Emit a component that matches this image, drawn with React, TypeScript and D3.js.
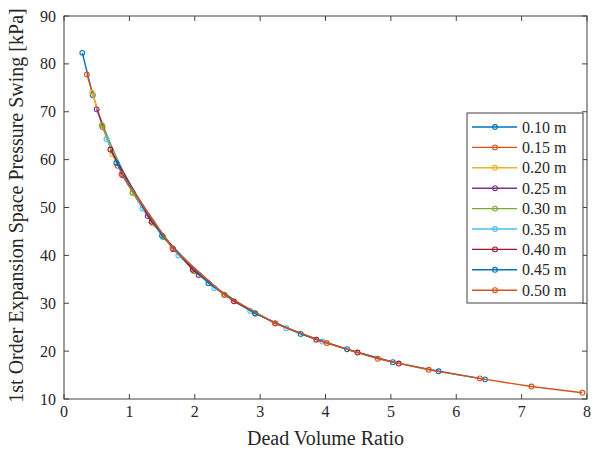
import React from 'react'
import * as d3 from 'd3'

// dead volume ratio (x) and 1st order pressure swing in kPa (y), one pair of arrays per length
const lengths = ['0.10 m', '0.15 m', '0.20 m', '0.25 m', '0.30 m', '0.35 m', '0.40 m', '0.45 m', '0.50 m']

const x010 = [0.28, 0.44]
const y010 = [82.3, 73.5]
const x015 = [0.35, 0.59, 0.82]
const y015 = [77.8, 66.8, 58.7]
const x020 = [0.43, 0.74, 1.05, 1.36]
const y020 = [74.0, 61.1, 53.1, 46.6]
const x025 = [0.50, 0.89, 1.28, 1.67, 2.06]
const y025 = [70.5, 56.8, 48.2, 41.3, 35.9]
const x030 = [0.58, 1.05, 1.52, 1.99, 2.46, 2.93]
const y030 = [67.2, 53.1, 43.8, 36.7, 31.7, 27.8]
const x035 = [0.65, 1.20, 1.75, 2.30, 2.85, 3.40, 3.95]
const y035 = [64.3, 49.8, 40.0, 33.2, 28.4, 24.8, 22.0]
const x040 = [0.71, 1.34, 1.97, 2.60, 3.23, 3.86, 4.49, 5.12]
const y040 = [62.1, 47.0, 37.0, 30.4, 25.8, 22.4, 19.7, 17.4]
const x045 = [0.80, 1.50, 2.21, 2.92, 3.62, 4.33, 5.03, 5.73, 6.44]
const y045 = [59.3, 44.1, 34.2, 27.9, 23.6, 20.4, 17.7, 15.8, 14.1]
const x050 = [0.88, 1.66, 2.45, 3.23, 4.02, 4.80, 5.58, 6.36, 7.15, 7.93]
const y050 = [57.0, 41.5, 31.8, 25.8, 21.7, 18.4, 16.1, 14.3, 12.6, 11.3]

const xSeries = [x010, x015, x020, x025, x030, x035, x040, x045, x050]
const ySeries = [y010, y015, y020, y025, y030, y035, y040, y045, y050]

const xTicks = [0, 1, 2, 3, 4, 5, 6, 7, 8]
const yTicks = [10, 20, 30, 40, 50, 60, 70, 80, 90]

// matlab default colour order, wraps after 7
const colors = ['#0072BD', '#D95319', '#EDB120', '#7E2F8E', '#77AC30', '#4DBEEE', '#A2142F']

const W = 600
const H = 453
const left = 64
const right = 587
const top = 16
const bottom = 399
const axisColor = '#404040'
const serif = '"Liberation Serif", "Times New Roman", serif'

export default function App() {
  const x = d3.scaleLinear().domain([0, 8]).range([left, right])
  const y = d3.scaleLinear().domain([10, 90]).range([bottom, top])

  const line = d3.line<[number, number]>()
    .x(d => x(d[0]))
    .y(d => y(d[1]))

  const tickLen = 5

  /* legend setup */
  const legX = 467
  const legY = 113
  const legW = 116
  const legRow = 20.4

  return (
    <svg width={W} height={H} style={{ position: 'absolute', left: 0, top: 0, background: '#fff' }}>
      <rect x={0} y={0} width={W} height={H} fill="#fff" />

      {/* series */}
      {xSeries.map((xs, i) => {
        const pts: [number, number][] = xs.map((v, j) => [v, ySeries[i][j]])
        const c = colors[i % colors.length]
        return (
          <g key={i}>
            <path d={line(pts) || ''} fill="none" stroke={c} strokeWidth={1.4} />
            {pts.map((p, j) => (
              <circle key={j} cx={x(p[0])} cy={y(p[1])} r={2.4} fill="none" stroke={c} strokeWidth={1.1} />
            ))}
          </g>
        )
      })}

      {/* axes box */}
      <rect x={left} y={top} width={right - left} height={bottom - top} fill="none" stroke={axisColor} strokeWidth={1} />

      {xTicks.map(t => (
        <g key={'x' + t}>
          <line x1={x(t)} x2={x(t)} y1={bottom} y2={bottom - tickLen} stroke={axisColor} />
          <line x1={x(t)} x2={x(t)} y1={top} y2={top + tickLen} stroke={axisColor} />
          <text x={x(t)} y={417} textAnchor="middle" fontFamily={serif} fontSize={16} fill="#262626">{t}</text>
        </g>
      ))}

      {yTicks.map(t => (
        <g key={'y' + t}>
          <line x1={left} x2={left + tickLen} y1={y(t)} y2={y(t)} stroke={axisColor} />
          <line x1={right} x2={right - tickLen} y1={y(t)} y2={y(t)} stroke={axisColor} />
          <text x={56} y={y(t) + 5.5} textAnchor="end" fontFamily={serif} fontSize={16} fill="#262626">{t}</text>
        </g>
      ))}

      <text x={(left + right) / 2} y={445} textAnchor="middle" fontFamily={serif} fontSize={20} fill="#262626">
        Dead Volume Ratio
      </text>
      <text
        transform={`translate(23,${(top + bottom) / 2 - 2}) rotate(-90)`}
        textAnchor="middle"
        fontFamily={serif}
        fontSize={20}
        fill="#262626"
      >
        1st Order Expansion Space Pressure Swing [kPa]
      </text>

      {/* legend */}
      <rect x={legX} y={legY} width={legW} height={190} fill="#fff" stroke={axisColor} strokeWidth={1} />
      {lengths.map((lab, i) => {
        const cy = legY + 14 + i * legRow
        const c = colors[i % colors.length]
        return (
          <g key={lab}>
            <line x1={472} x2={517} y1={cy} y2={cy} stroke={c} strokeWidth={1.4} />
            <circle cx={495} cy={cy} r={2.4} fill="none" stroke={c} strokeWidth={1.1} />
            <text x={522} y={cy + 5.5} fontFamily={serif} fontSize={16} fill="#262626">{lab}</text>
          </g>
        )
      })}
    </svg>
  )
}
